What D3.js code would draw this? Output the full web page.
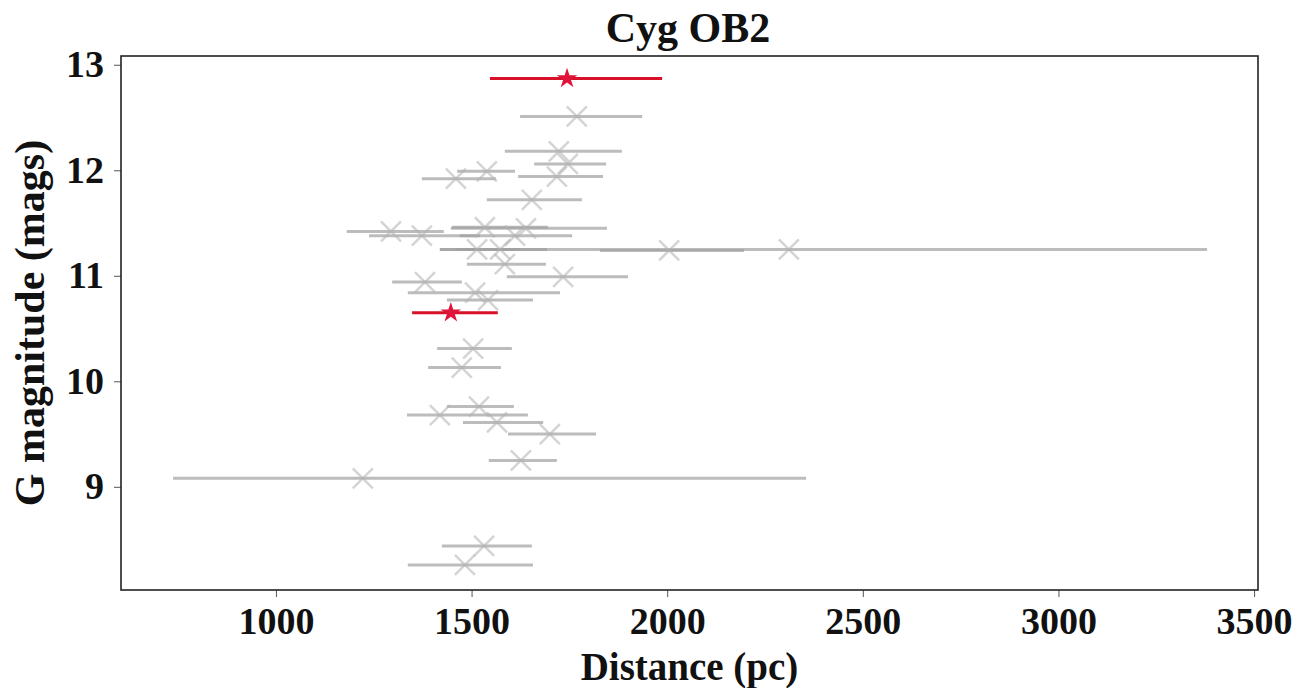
<!DOCTYPE html>
<html>
<head>
<meta charset="utf-8">
<script src="https://cdn.jsdelivr.net/npm/d3@7"></script>
<style>
  html, body { margin: 0; padding: 0; background: #fff; }
  svg { display: block; }
  text { font-family: "Liberation Serif", "Times New Roman", serif; font-weight: bold; fill: #111; }
</style>
</head>
<body>
<svg id="chart" width="1294" height="688"></svg>
<script>
// ---- data ----
const distance = [1744, 1769, 1723, 1746, 1539, 1718, 1460, 1654, 1294, 1534, 1639, 1373, 1611,
                  1514, 1573, 1585, 2005, 2311, 1734, 1381, 1509, 1542, 1447, 1504, 1475, 1519,
                  1419, 1565, 1700, 1626, 1222, 1532, 1483];
const distLow  = [1547, 1624, 1585, 1660, 1463, 1619, 1373, 1539, 1181, 1450, 1447, 1238, 1470,
                  1419, 1458, 1488, 1828, 1419, 1590, 1297, 1337, 1437, 1348, 1412, 1389, 1437,
                  1335, 1478, 1593, 1544, 737, 1424, 1337];
const distHigh = [1987, 1936, 1884, 1844, 1611, 1836, 1562, 1782, 1429, 1695, 1846, 1521, 1757,
                  1624, 1693, 1690, 2196, 3380, 1900, 1475, 1726, 1657, 1567, 1603, 1575, 1608,
                  1644, 1683, 1818, 1718, 2355, 1654, 1657];
const gMag     = [12.87, 12.51, 12.18, 12.06, 11.99, 11.94, 11.92, 11.72, 11.42, 11.46, 11.45, 11.38, 11.38,
                  11.25, 11.25, 11.11, 11.24, 11.25, 10.99, 10.94, 10.84, 10.77, 10.65, 10.31, 10.13, 9.76,
                  9.68, 9.61, 9.50, 9.25, 9.08, 8.44, 8.26];
const kind     = ["star", "x", "x", "x", "x", "x", "x", "x", "x", "x", "x", "x", "x",
                  "x", "x", "x", "x", "x", "x", "x", "x", "x", "star", "x", "x", "x",
                  "x", "x", "x", "x", "x", "x", "x"];
const xTicks = [1000, 1500, 2000, 2500, 3000, 3500];
const yTicks = [9, 10, 11, 12, 13];
const title = "Cyg OB2";
const xLabel = "Distance (pc)";
const yLabel = "G magnitude (mags)";

const points = distance.map((d, i) => ({ d, lo: distLow[i], hi: distHigh[i], m: gMag[i], k: kind[i] }));

// ---- layout ----
const svg = d3.select("#chart");
const L = 121, R = 1258, T = 56, B = 590;

const x = d3.scaleLinear().domain([604, 3510]).range([L, R]);
const y = d3.scaleLinear().domain([8.022, 13.083]).range([B, T]);

const gray = points.filter(p => p.k === "x");
const red = points.filter(p => p.k === "star");

// gray error bars
svg.append("g").selectAll("line").data(gray).join("line")
  .attr("x1", p => x(p.lo)).attr("x2", p => x(p.hi))
  .attr("y1", p => y(p.m)).attr("y2", p => y(p.m))
  .attr("stroke", "#a0a0a0").attr("stroke-opacity", 0.7).attr("stroke-width", 3);

// gray x markers
const xs = 10;
svg.append("g").selectAll("path").data(gray).join("path")
  .attr("d", p => {
    const cx = x(p.d), cy = y(p.m);
    return `M${cx - xs},${cy - xs}L${cx + xs},${cy + xs}M${cx - xs},${cy + xs}L${cx + xs},${cy - xs}`;
  })
  .attr("stroke", "#b0b0b0").attr("stroke-opacity", 0.55).attr("stroke-width", 2.5).attr("fill", "none");

// red error bars + stars
svg.append("g").selectAll("line").data(red).join("line")
  .attr("x1", p => x(p.lo)).attr("x2", p => x(p.hi))
  .attr("y1", p => y(p.m)).attr("y2", p => y(p.m))
  .attr("stroke", "#d81028").attr("stroke-width", 3);
svg.append("g").selectAll("path").data(red).join("path")
  .attr("transform", p => `translate(${x(p.d)},${y(p.m)})`)
  .attr("d", d3.symbol(d3.symbolStar, 130))
  .attr("fill", "#e0143a");

// axes
const xAxis = svg.append("g").attr("transform", `translate(0,${B})`)
  .call(d3.axisBottom(x).tickValues(xTicks).tickSize(7).tickPadding(10).tickFormat(d3.format("d")));
const yAxis = svg.append("g").attr("transform", `translate(${L},0)`)
  .call(d3.axisLeft(y).tickValues(yTicks).tickSize(7).tickPadding(10).tickFormat(d3.format("d")));
[xAxis, yAxis].forEach(a => {
  a.select(".domain").remove();
  a.selectAll(".tick line").attr("stroke", "#555").attr("stroke-width", 1);
  a.selectAll(".tick text").attr("font-family", "Liberation Serif, serif").attr("font-weight", "bold")
    .attr("font-size", 38).attr("fill", "#111");
});

// frame
svg.append("rect").attr("x", L).attr("y", T).attr("width", R - L).attr("height", B - T)
  .attr("fill", "none").attr("stroke", "#222").attr("stroke-width", 1.6);

// titles
svg.append("text").attr("x", 688).attr("y", 42).attr("text-anchor", "middle")
  .attr("font-size", 42).text(title);
svg.append("text").attr("x", (L + R) / 2).attr("y", 680).attr("text-anchor", "middle")
  .attr("font-size", 39).text(xLabel);
svg.append("text").attr("transform", `translate(44,${(T + B) / 2}) rotate(-90)`)
  .attr("text-anchor", "middle").attr("font-size", 42).text(yLabel);
</script>
</body>
</html>
